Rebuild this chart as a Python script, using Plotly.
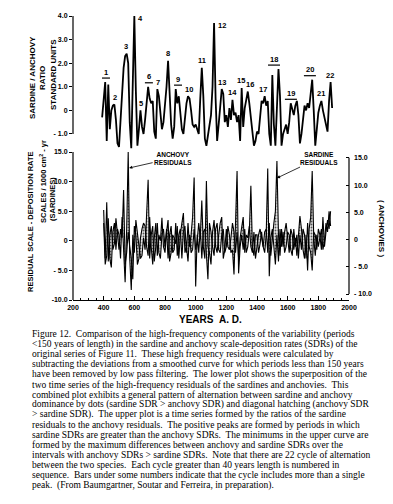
import plotly.graph_objects as go

W, H = 393, 504

# ---------------- data ----------------
years_top = list(range(390, 1900, 10))
ratio = [
    -0.3, 0.5, 1.2, -1.3, 1.1, -0.8, 0.0, 0.2, 0.25, -0.4,      # 390-480
    -1.4, -1.55, -0.5, 0.6, 1.8, 2.3, 2.4, 2.0, -0.5, -1.6,      # 490-580
    1.5, 4.0, 0.8, -1.5, -0.8, 0.0, -0.7, -1.0, -0.4, 0.2,       # 590-680
    1.0, 0.5, 0.3, 0.4, -0.9, -1.2, 0.9, 0.6, -0.3, -0.8,        # 690-780
    -0.5, 0.2, 1.0, 2.1, 0.8, -0.6, -1.2, -0.7, 0.9, 0.3,        # 790-880
    0.6, -0.2, -0.8, -1.0, -0.2, 0.3, 0.6, 0.5, 0.0, -0.6,       # 890-980
    -0.7, -0.6, -0.8, -1.0, 0.5, 1.8, 0.6, -1.2, -1.5, -1.0,     # 990-1080
    -0.6, -0.2, 1.0, 3.7, 0.5, -1.3, -0.6, 0.3, 0.9, 0.7,        # 1090-1180
    -0.5, -0.2, -0.7, 0.1, -0.4, 0.45, -0.2, -0.1, -0.5, -0.2,   # 1190-1280
    -1.3, 0.95, -0.7, 0.1, 0.5, 0.8, 0.3, -0.4, -1.0, -1.5,      # 1290-1380
    -1.3, -0.9, -1.0, -0.3, 0.4, 0.3, 0.6, 0.2, 0.4, -1.0,       # 1390-1480
    -1.5, 1.5, -0.6, -1.5, 0.5, 1.75, 0.6, -1.5, -1.0, -0.8,     # 1490-1580
    -0.6, -1.0, -0.5, 0.3, 0.0, -0.2, 0.2, 0.4, -0.2, -1.4,      # 1590-1680
    -1.0, -0.4, 0.2, 0.0, 0.3, 0.1, 0.8, 1.3, 0.0, -1.5,         # 1690-1780
    -0.8, -0.1, 0.2, 0.4, 0.0, -0.3, -0.6, -0.9, 0.4, 1.2,       # 1790-1880
    0.1,                                                         # 1890
]

years_bot = list(range(400, 1890, 10))
sardine = [
    5.2, -3.0, 6.5, -3.5, 1.0, 2.5, -1.5, -0.5, 3.8, 1.0,
    -1.5, 2.0, 0.5, 8.6, -4.0, -2.0, 1.5, -1.0, -3.0, -6.5,
    2.5, 1.0, -4.0, -3.0, 0.5, 2.0, 3.0, 2.5, -1.0, -2.5,
    4.0, -1.0, -4.0, 0.5, 3.0, -2.5, 1.0, 0.0, 3.9, -1.0,
    -2.0, 1.5, 3.5, -3.5, -2.0, 1.0, 0.5, -0.5, 2.5, -3.0,
    1.0, 3.0, 4.7, -2.0, -1.0, -3.5, 1.0, -2.0, -1.5, 2.0,
    -1.5, 0.0, 3.0, 0.5, 6.8, -1.0, -3.0, 10.1, -1.0, -2.0,
    -4.0, 1.5, 3.5, -1.0, -2.0, 1.0, 3.0, 4.0, -3.0, -1.5,
    2.0, -1.0, -1.5, 0.5, 3.0, 1.5, -2.0, 1.5, -3.0, 0.5,
    2.5, 4.0, -2.0, 1.0, 0.5, 2.5, -1.0, -2.0, 1.5, -3.0,
    -1.0, 1.0, 2.0, 0.5, -1.0, 1.5, 2.0, -2.0, 3.0, -2.5,
    1.0, 3.0, 5.0, 13.5, 1.0, -2.5, 2.0, -1.0, 1.5, 3.0,
    0.5, -2.0, 2.0, 1.0, -1.5, 0.5, -2.5, 1.5, 4.2, 2.0,
    -1.5, -3.0, 1.0, -5.0, 2.0, 4.0, 11.8, 0.5, -2.5, 1.0,
    -1.0, 0.5, 2.0, -1.5, 0.0, 3.0, 1.5, 5.0, 2.5,
]
anchovy = [
    3.0, -4.0, -2.5, 3.8, -3.0, -4.5, 1.5, 3.0, -1.5, 2.0,
    1.0, -3.0, 4.0, -2.0, -7.0, 2.0, 15.0, -3.0, -8.3, 1.0,
    -2.0, 3.5, 1.0, -1.0, -3.0, -2.5, 0.5, -1.5, 4.0, 10.3,
    -3.0, 1.0, 2.5, -3.5, -1.0, 3.0, -2.0, -3.0, 1.0, 2.0,
    -1.0, 2.0, -3.0, 1.0, 2.5, -2.0, -1.5, 3.0, -2.5, 1.0,
    2.0, -3.0, 1.5, 2.5, -2.0, 3.0, -1.0, 1.0, 4.0, 10.7,
    -7.7, 1.0, -2.0, 2.0, -3.0, 1.5, 2.0, -2.5, -6.5, 3.0,
    1.5, -1.0, -2.5, 2.0, 3.0, -1.5, -2.0, 1.0, 2.0, -2.0,
    -1.0, 2.5, 1.0, -2.0, -1.5, -5.7, 2.0, 11.8, -5.5, -1.0,
    1.0, -1.5, 2.0, -2.0, -1.0, 1.5, 9.3, -1.0, -2.5, 1.0,
    1.0, -2.0, -0.5, 1.5, -1.0, -2.0, 1.0, 12.2, -6.0, 0.5,
    2.0, -1.5, -4.0, 1.0, -3.5, 2.0, -1.0, 1.5, -2.0, -1.0,
    1.5, 1.0, -1.5, -2.5, 2.0, -1.0, 1.0, -3.0, 1.0, -1.5,
    2.0, 1.0, -3.0, 3.0, -1.0, -2.0, -5.0, 1.5, 1.0, -1.5,
    2.0, 1.0, -1.5, 4.0, -1.0, 1.5, 3.5, 2.0, 5.0,
]

peak_labels = [str(i) for i in range(1, 23)]
label_years = [415, 474, 546, 600, 643, 695, 754, 819, 885, 956, 1041,
               1120, 1171, 1237, 1295, 1354, 1439, 1511, 1621, 1745, 1817, 1876]
barred = ["1", "6", "9", "18", "19", "20"]
side_labels = ["4", "12"]

x_ticks = list(range(200, 2001, 200))
top_tickvals = [-1, 0, 1, 2, 3, 4]
top_ticktext = ["- 1.0", "0", "1.0", "2.0", "3.0", "4.0"]
bot_tickvals = [-10, -5, 0, 5, 10, 15]
left_ticktext = ["-10.0", "- 5.0", "0", "5.0", "10.0", "15.0"]
right_ticktext = ["- 10.0", "- 5.0", "0", "5.0", "10.0", "15.0"]

caption = [
    "Figure 12.\u00a0 Comparison of the high-frequency components of the variability (periods",
    "<150 years of length) in the sardine and anchovy scale-deposition rates (SDRs) of the",
    "original series of Figure 11.\u00a0 These high frequency residuals were calculated by",
    "subtracting the deviations from a smoothed curve for which periods less than 150 years",
    "have been removed by low pass filtering.\u00a0 The lower plot shows the superposition of the",
    "two time series of the high-frequency residuals of the sardines and anchovies.\u00a0 This",
    "combined plot exhibits a general pattern of alternation between sardine and anchovy",
    "dominance by dots (sardine SDR > anchovy SDR) and diagonal hatching (anchovy SDR",
    "> sardine SDR).\u00a0 The upper plot is a time series formed by the ratios of the sardine",
    "residuals to the anchovy residuals.\u00a0 The positive peaks are formed by periods in which",
    "sardine SDRs are greater than the anchovy SDRs.\u00a0 The minimums in the upper curve are",
    "formed by the maximum differences between anchovy and sardine SDRs over the",
    "intervals with anchovy SDRs > sardine SDRs.\u00a0 Note that there are 22 cycle of alternation",
    "between the two species.\u00a0 Each cycle greater than 40 years length is numbered in",
    "sequence.\u00a0 Bars under some numbers indicate that the cycle includes more than a single",
    "peak.\u00a0 (From Baumgartner, Soutar and Ferreira, in preparation).",
]


# ---------------- helpers ----------------
def px(x):
    return x / W


def py(y):
    return 1 - y / H


SANS = "Liberation Sans"
SERIF = "Liberation Serif"
tickfont = dict(family=SANS, size=7, color="black", weight=700)

xdom = [px(73), px(349)]

fig = go.Figure()

fig.add_trace(go.Scatter(x=years_top, y=ratio, xaxis="x", yaxis="y", mode="lines",
                         line=dict(color="black", width=1.8), showlegend=False,
                         hoverinfo="skip"))
fig.add_trace(go.Scatter(x=years_bot, y=anchovy, xaxis="x2", yaxis="y2", mode="lines",
                         line=dict(color="black", width=1.1), showlegend=False,
                         hoverinfo="skip"))
fig.add_trace(go.Scatter(x=years_bot, y=sardine, xaxis="x2", yaxis="y2", mode="lines",
                         line=dict(color="black", width=1.1), showlegend=False,
                         fill="tonexty", fillcolor="rgba(160,160,160,0.5)",
                         fillpattern=dict(shape=".", fgcolor="#555555", bgcolor="#e6e6e6",
                                          size=3, solidity=0.3),
                         hoverinfo="skip"))

annotations = []
shapes = []

# peak number labels
for lab, yr in zip(peak_labels, label_years):
    vals = [v for t, v in zip(years_top, ratio) if abs(t - yr) <= 30]
    vmax = max(vals)
    font = dict(family=SANS, size=7.5, color="black", weight=700)
    if lab in side_labels:
        annotations.append(dict(x=yr, y=vmax, xref="x", yref="y", text=lab, showarrow=False,
                                xanchor="left", yanchor="middle", xshift=2, yshift=-2,
                                font=font))
        continue
    shift = 10 if lab in barred else 7
    annotations.append(dict(x=yr, y=vmax, xref="x", yref="y", text=lab, showarrow=False,
                            xanchor="center", yanchor="middle", yshift=shift, font=font))
    if lab in barred:
        half = 4 if len(lab) == 1 else 6
        shapes.append(dict(type="line", xref="x", yref="y", xsizemode="pixel",
                           ysizemode="pixel", xanchor=yr, yanchor=vmax,
                           x0=-half, x1=half, y0=4, y1=4,
                           line=dict(color="black", width=1.2)))

# axis lines
shapes.append(dict(type="line", xref="paper", yref="y", x0=xdom[0], x1=xdom[0],
                   y0=-1, y1=4, line=dict(color="black", width=1.2)))
shapes.append(dict(type="line", xref="paper", yref="y2", x0=xdom[0], x1=xdom[0],
                   y0=-10, y1=15, line=dict(color="black", width=1.2)))
shapes.append(dict(type="line", xref="paper", yref="y3", x0=xdom[1], x1=xdom[1],
                   y0=-10, y1=15, line=dict(color="black", width=1.2)))

labfont = dict(family=SANS, size=8, color="black", weight=700)
titlefont = dict(family=SANS, size=7.5, color="black", weight=700)


def vlabel(xp, yp, text, font, angle=-90):
    return dict(x=px(xp), y=py(yp), xref="paper", yref="paper", text=text,
                textangle=angle, showarrow=False, xanchor="center", yanchor="middle",
                font=font)


annotations += [
    vlabel(32, 78, "SARDINE / ANCHOVY", labfont),
    vlabel(42, 78, "RATIO", labfont),
    vlabel(53, 75, "STANDARD UNITS", labfont),
    vlabel(30, 222, "RESIDUAL SCALE - DEPOSITION RATE", titlefont),
    vlabel(43, 182, "SCALES / 1000 cm<sup>2</sup> - yr", titlefont),
    vlabel(53, 199, "(SARDINES)", titlefont),
    vlabel(381, 228, "( ANCHOVIES )", labfont, angle=90),
    dict(x=px(210), y=py(319), xref="paper", yref="paper", text="YEARS\u00a0\u00a0A. D.",
         showarrow=False, xanchor="center", yanchor="middle",
         font=dict(family=SANS, size=10, color="black", weight=700)),
]

# series callouts (text at the arrow tail)
small = dict(family=SANS, size=6.5, color="black", weight=700)
annotations += [
    dict(x=566, y=12.3, xref="x2", yref="y2", text="ANCHOVY<br>RESIDUALS",
         showarrow=True, ax=44, ay=-10, arrowhead=2, arrowsize=0.8, arrowwidth=0.8,
         arrowcolor="black", font=small, standoff=0),
    dict(x=1530, y=10.6, xref="x2", yref="y2", text="SARDINE<br>RESIDUALS",
         showarrow=True, ax=42, ay=-20, arrowhead=2, arrowsize=0.8, arrowwidth=0.8,
         arrowcolor="black", font=small, standoff=0),
]

# caption
for i, line in enumerate(caption):
    annotations.append(dict(x=px(30), y=py(334 + i * 10.1), xref="paper", yref="paper",
                             text=line, showarrow=False, xanchor="left", yanchor="middle",
                             font=dict(family=SERIF, size=9.5, color="black")))

fig.update_layout(
    template="none",
    width=W, height=H, margin=dict(l=0, r=0, t=0, b=0, autoexpand=False),
    paper_bgcolor="white", plot_bgcolor="rgba(0,0,0,0)",
    xaxis=dict(domain=xdom, range=[200, 2000], visible=False, anchor="y"),
    yaxis=dict(domain=[py(150), py(12)], range=[-1.68, 4.17], anchor="x",
               tickvals=top_tickvals, ticktext=top_ticktext, ticks="outside", ticklen=3,
               tickcolor="black", showgrid=False, zeroline=False, showline=False,
               tickfont=tickfont),
    xaxis2=dict(domain=xdom, range=[200, 2000], anchor="y2", tickvals=x_ticks,
                ticks="inside", ticklen=4, tickcolor="black", showline=True,
                linecolor="black", linewidth=1.2, showgrid=False, zeroline=False,
                tickfont=tickfont, ticklabelstandoff=0,
                minor=dict(dtick=50, tick0=200, ticks="inside", ticklen=2,
                           tickcolor="black")),
    yaxis2=dict(domain=[py(300), py(148)], range=[-10, 15.68], anchor="x2",
                tickvals=bot_tickvals, ticktext=left_ticktext, ticks="outside",
                ticklen=3, tickcolor="black", showgrid=False, zeroline=False,
                showline=False, tickfont=tickfont),
    yaxis3=dict(overlaying="y2", side="right", anchor="x2", range=[-11.1, 16.8],
                tickvals=bot_tickvals, ticktext=right_ticktext, ticks="inside",
                ticklen=3, tickcolor="black", showgrid=False, zeroline=False,
                showline=False, tickfont=tickfont, ticklabelstandoff=4),
    annotations=annotations, shapes=shapes,
)

fig.write_html("out.html", config={"displayModeBar": False, "staticPlot": True},
               post_script="document.body.style.margin='0';")
